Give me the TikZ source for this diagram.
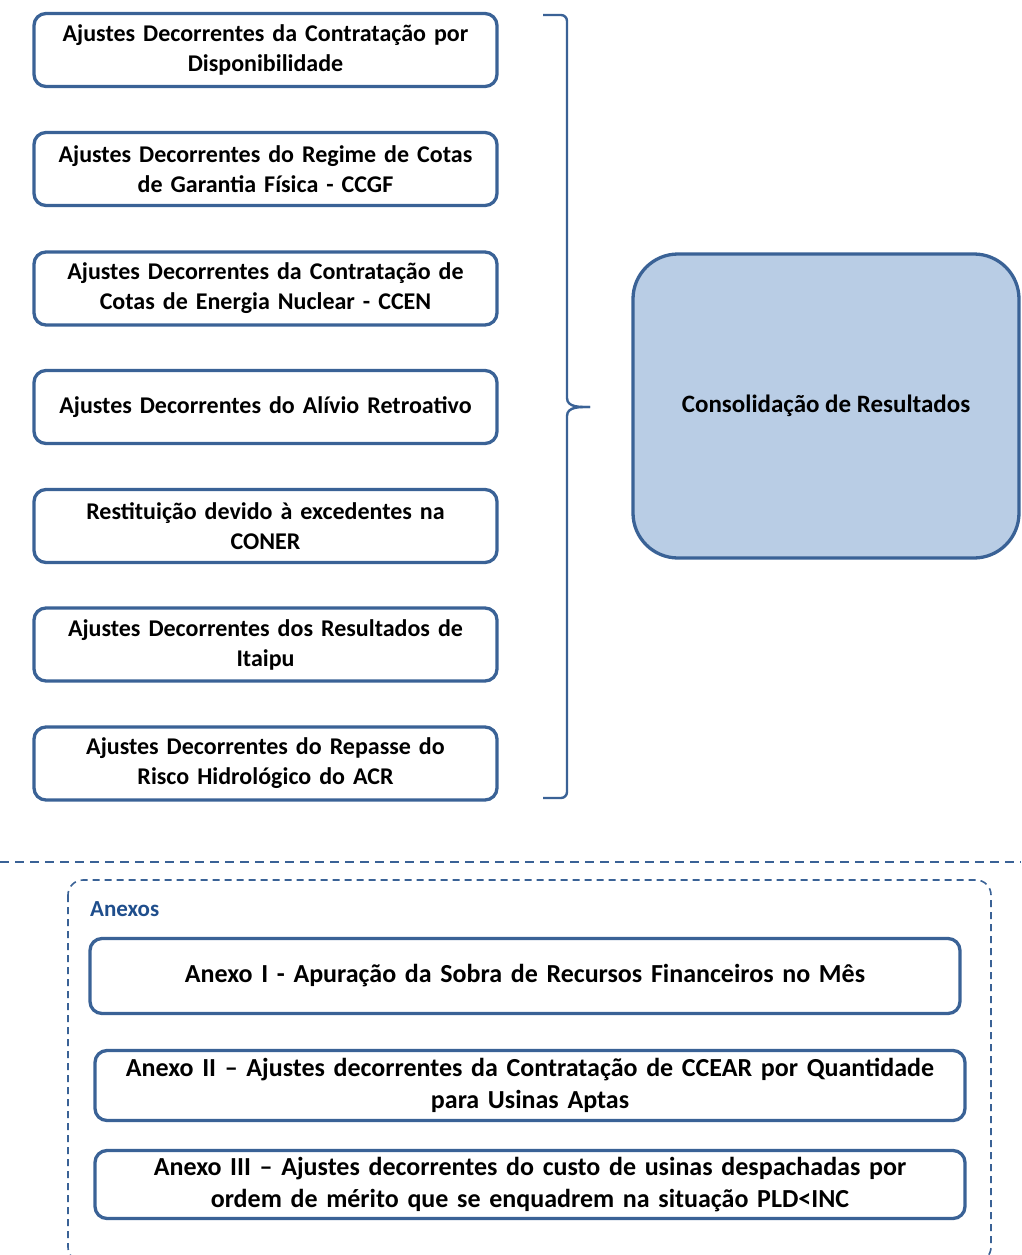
\documentclass[tikz,border=0pt]{standalone}
\usepackage{fontspec}
\setmainfont{Carlito}
\definecolor{bord}{HTML}{3A6296}
\definecolor{fillb}{HTML}{B9CDE5}
\definecolor{lblue}{HTML}{1F4E8C}
\begin{document}
\begin{tikzpicture}[x=1pt,y=-1pt,
  leftbox/.style={draw=bord,line width=3.3pt,rounded corners=12pt,minimum width=463pt,minimum height=73pt,text width=455pt,align=center,inner sep=0pt,font=\fontsize{24}{30}\selectfont\bfseries},
  anxbox/.style={draw=bord,line width=3.3pt,rounded corners=12pt,minimum width=870pt,minimum height=71pt,text width=865pt,align=center,inner sep=0pt,font=\fontsize{26}{32}\selectfont\bfseries},
  bigbox/.style={draw=bord,fill=fillb,line width=3.3pt,rounded corners=45pt,minimum width=386pt,minimum height=304pt,inner sep=0pt,font=\fontsize{25}{30}\selectfont\bfseries},
  brace/.style={draw=bord,line width=2.4pt},
  dashln/.style={draw=bord,line width=2.6pt,dash pattern=on 9pt off 6pt},
  dashbox/.style={draw=bord,line width=1.6pt,dash pattern=on 7pt off 5pt,rounded corners=15pt}]
\useasboundingbox (0,0) rectangle (1021,1255);
\node[leftbox] (b1) at (265.5,50) {Ajustes Decorrentes da Contratação por\\Disponibilidade};
\node[leftbox] (b2) at (265.5,169) {Ajustes Decorrentes do Regime de Cotas\\de Garantia Física - CCGF};
\node[leftbox] (b3) at (265.5,288.5) {Ajustes Decorrentes da Contratação de\\Cotas de Energia Nuclear - CCEN};
\node[leftbox] (b4) at (265.5,407) {Ajustes Decorrentes do Alívio Retroativo};
\node[leftbox] (b5) at (265.5,526) {Restituição devido à excedentes na\\CONER};
\node[leftbox] (b6) at (265.5,644.5) {Ajustes Decorrentes dos Resultados de\\Itaipu};
\node[leftbox] (b7) at (265.5,763.5) {Ajustes Decorrentes do Repasse do\\Risco Hidrológico do ACR};
\node[bigbox] (cons) at (826,406) {Consolidação de Resultados};
% brace
\coordinate (bt) at (543,15);
\coordinate (bb) at (543,798);
\coordinate (tip) at (590,407);
\draw[brace] (bt) -- (561,15) to[out=0,in=90] (567,21) -- (567,398) to[out=-90,in=180] (tip);
\draw[brace] (bb) -- (561,798) to[out=0,in=-90] (567,792) -- (567,416) to[out=90,in=180] (tip);
% dashed separator
\coordinate (dl) at (0,862);
\coordinate (dr) at (1021,862);
\draw[dashln] (dl) -- (dr);
% annex container
\draw[dashbox] (68,880) rectangle (991,1262);
\node[anchor=west,text=lblue,font=\fontsize{23}{26}\selectfont\bfseries,inner sep=0pt] (anx) at (90,909) {Anexos};
\node[anxbox,minimum height=75pt] (a1) at (525,976) {Anexo I - Apuração da Sobra de Recursos Financeiros no Mês};
\node[anxbox,minimum height=70pt] (a2) at (530,1085.5) {Anexo II – Ajustes decorrentes da Contratação de CCEAR por Quantidade\\para Usinas Aptas};
\node[anxbox,minimum height=68pt] (a3) at (530,1184.5) {Anexo III – Ajustes decorrentes do custo de usinas despachadas por\\ordem de mérito que se enquadrem na situação PLD<INC};
\end{tikzpicture}
\end{document}
